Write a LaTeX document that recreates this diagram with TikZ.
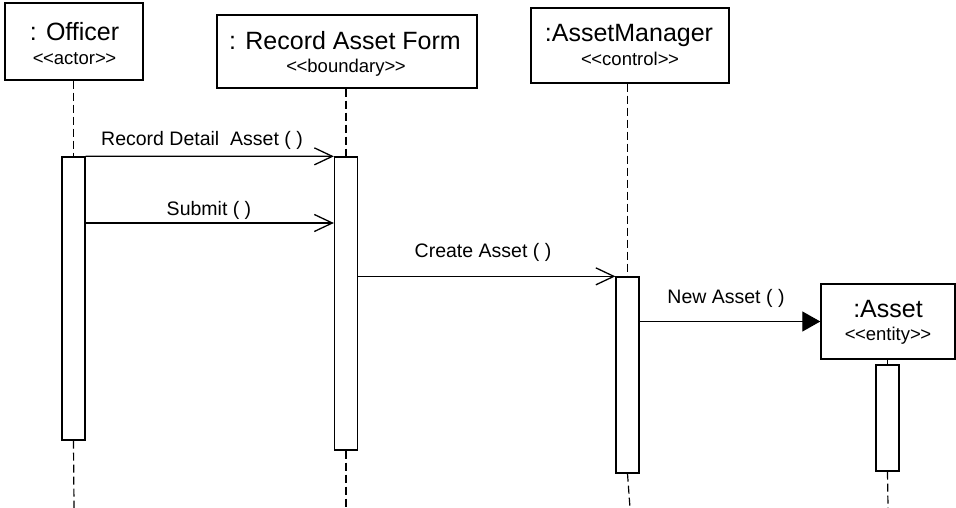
\documentclass[tikz,border=0pt]{standalone}
\usepackage{fontspec}
\setmainfont{Liberation Sans}
\usetikzlibrary{arrows.meta}

% guillemet-free stereotype brackets (the kerns keep << and >> as two characters)
\newcommand\stype[1]{<\kern-0.5bp<#1>\kern-0.5bp>}

\tikzset{
  objbox/.style={draw, line width=1.4bp, minimum width=#1, inner sep=0pt},
  actbar/.style={draw, line width=1.3bp, fill=white, minimum width=23bp, inner sep=0pt},
  lifeline/.style={line width=1.2bp, dash pattern=on 8bp off 4bp},
  msgopen/.style={line width=1.2bp, -{Straight Barb[length=18bp, width=17bp, line width=1.3bp]}},
  msgfilled/.style={line width=1.2bp, -{Triangle[length=18bp, width=20bp]}},
  title/.style={anchor=base, inner sep=0pt, font=\fontsize{25bp}{28bp}\selectfont},
  stereo/.style={anchor=base, inner sep=0pt, font=\fontsize{18.5bp}{22bp}\selectfont},
  msglabel/.style={anchor=base, inner sep=0pt, font=\fontsize{19.5bp}{22bp}\selectfont}
}

\begin{document}
\begin{tikzpicture}[x=1bp, y=-1bp]
  \useasboundingbox (0,0) rectangle (956,508);

  % object boxes
  \node[objbox=138bp, minimum height=77bp] (officer) at (74,41.5) {};
  \node[objbox=260bp, minimum height=73bp] (form) at (347,51.5) {};
  \node[objbox=198bp, minimum height=75bp] (manager) at (630,45.5) {};
  \node[objbox=134bp, minimum height=75bp] (asset) at (888,321.5) {};

  % object names and stereotypes
  \node[title] (officerT) at (74.5,41) {: Officer};
  \node[stereo] (officerS) at (74.5,65) {\stype{actor}};
  \node[title] (formT) at (345,50) {: Record Asset Form};
  \node[stereo] (formS) at (346,73) {\stype{boundary}};
  \node[title] (managerT) at (629,42) {:AssetManager};
  \node[stereo] (managerS) at (630,66) {\stype{control}};
  \node[title] (assetT) at (888,318) {:Asset};
  \node[stereo] (assetS) at (888,341) {\stype{entity}};

  % activation bars
  \node[actbar, minimum height=283bp] (actO) at (73.5,298.5) {};
  \node[actbar, minimum height=293bp] (actF) at (346,303.5) {};
  \node[actbar, minimum height=196bp] (actM) at (627.5,375) {};
  \node[actbar, minimum height=106bp] (actA) at (887.5,418) {};

  % lifelines
  \coordinate (endO) at (74,508);
  \coordinate (endF) at (346,508);
  \coordinate (endM) at (630,508);
  \coordinate (endA) at (888,508);
  \draw[lifeline] (officer.south -| actO.north) -- (actO.north);
  \draw[lifeline] (actO.south) -- (endO);
  \draw[lifeline] (form.south -| actF.north) -- (actF.north);
  \draw[lifeline] (actF.south) -- (endF);
  \draw[lifeline] (manager.south -| actM.north) -- (actM.north);
  \draw[lifeline] (actM.south) -- (endM);
  \draw[lifeline] (asset.south -| actA.north) -- (actA.north);
  \draw[lifeline] (actA.south) -- (endA);

  % messages
  \draw[msgopen] (actO.north east) -- (actF.north west);
  \node[msglabel] (m1) at (202,146) {Record Detail\ \ Asset ( )};

  \coordinate (m2y) at (0,223);
  \draw[msgopen] (actO.east |- m2y) -- (actF.west |- m2y);
  \node[msglabel] (m2) at (209,216) {Submit ( )};

  \draw[msgopen] (actF.east |- actM.north) -- (actM.north west);
  \node[msglabel] (m3) at (483,258) {Create Asset ( )};

  \draw[msgfilled] (actM.east |- asset.west) -- (asset.west);
  \node[msglabel] (m4) at (726,304) {New Asset ( )};
\end{tikzpicture}
\end{document}
